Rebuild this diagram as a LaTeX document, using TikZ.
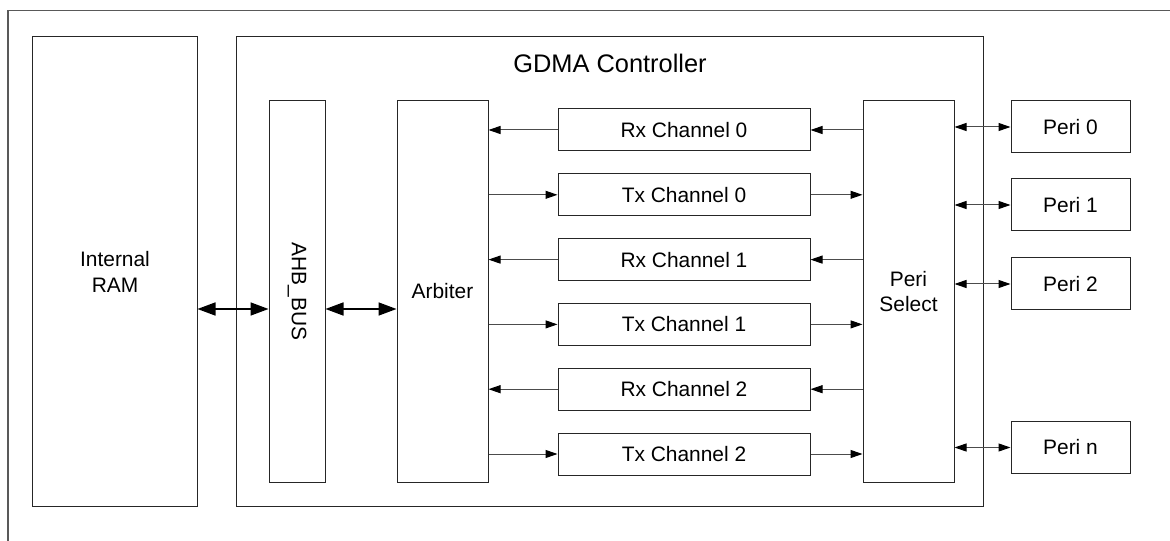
\documentclass[tikz,border=0pt]{standalone}
\usepackage{fontspec}
\setmainfont{Liberation Sans}
\usetikzlibrary{arrows.meta}
\tikzset{
  box/.style={draw=black!85, line width=1bp, rectangle, inner sep=0pt, fill=none},
  txt/.style={font=\fontsize{21}{26}\selectfont, align=center},
  chan/.style={box, txt, minimum width=252bp, minimum height=42bp},
  peri/.style={box, txt, minimum width=119bp, minimum height=52bp},
  tall/.style={box, txt, minimum height=381bp},
  arr/.style={draw=black!70, line width=1bp, -{Triangle[length=12bp,width=8bp,color=black]}},
  darr/.style={draw=black!70, line width=1bp, {Triangle[length=12bp,width=8bp,color=black]}-{Triangle[length=12bp,width=8bp,color=black]}},
  bigarr/.style={draw=black, line width=1.6bp, {Triangle[length=18bp,width=13bp]}-{Triangle[length=18bp,width=13bp]}},
  frame/.style={draw=black!65, line width=1.2bp}
}
\begin{document}
\begin{tikzpicture}[x=1bp, y=-1bp]
\useasboundingbox (0,0) rectangle (1170,541);
% outer frame (cropped at right and bottom)
\coordinate (fa) at (8,541);
\coordinate (fb) at (8,10.5);
\coordinate (fc) at (1170,10.5);
\draw[frame] (fa) -- (fb) -- (fc);
% main blocks
\node[box, txt, minimum width=164bp, minimum height=469bp] (ram) at (115,271.5) {Internal\\RAM};
\node[box, minimum width=746bp, minimum height=469bp] (gdma) at (610,271.5) {};
\node[txt, font=\fontsize{25.5}{30}\selectfont] (title) at (610,63) {GDMA Controller};
\node[tall, minimum width=56bp] (ahb) at (297,291.5) {};
\node[txt, rotate=-90] (ahbtxt) at (ahb.center) {AHB\_BUS};
\node[tall, minimum width=91bp] (arb) at (442.5,291.5) {Arbiter};
\node[tall, minimum width=91bp] (sel) at (908.5,291.5) {Peri\\Select};
% channels
\node[chan] (rx0) at (684,130) {Rx Channel 0};
\node[chan] (tx0) at (684,194.8) {Tx Channel 0};
\node[chan] (rx1) at (684,259.6) {Rx Channel 1};
\node[chan] (tx1) at (684,324.4) {Tx Channel 1};
\node[chan] (rx2) at (684,389.2) {Rx Channel 2};
\node[chan] (tx2) at (684,454) {Tx Channel 2};
% peripherals
\node[peri] (p0) at (1070.5,127) {Peri 0};
\node[peri] (p1) at (1070.5,205) {Peri 1};
\node[peri] (p2) at (1070.5,284) {Peri 2};
\node[peri] (pn) at (1070.5,447.5) {Peri n};
% bus arrows
\coordinate (busy) at (0,309);
\draw[bigarr] (ram.east |- busy) -- (ahb.west |- busy);
\draw[bigarr] (ahb.east |- busy) -- (arb.west |- busy);
% channel arrows
\foreach \r in {rx0,rx1,rx2}{
  \draw[arr] (\r.west) -- (arb.east |- \r.west);
  \draw[arr] (sel.west |- \r.east) -- (\r.east);
}
\foreach \t in {tx0,tx1,tx2}{
  \draw[arr] (arb.east |- \t.west) -- (\t.west);
  \draw[arr] (\t.east) -- (sel.west |- \t.east);
}
% peripheral arrows
\foreach \p in {p0,p1,p2,pn}{
  \draw[darr] (sel.east |- \p.west) -- (\p.west);
}
\end{tikzpicture}
\end{document}
